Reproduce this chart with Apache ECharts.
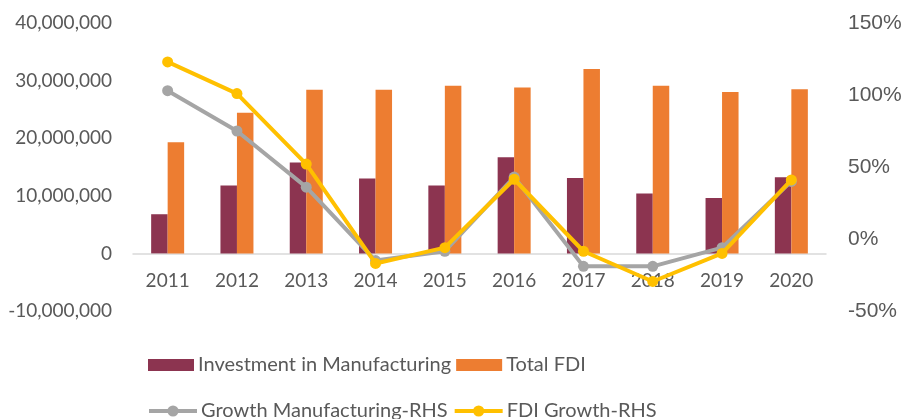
<!DOCTYPE html>
<html>
<head>
<meta charset="utf-8">
<script src="https://cdn.jsdelivr.net/npm/echarts@6/dist/echarts.min.js"></script>
<style>
  html, body { margin: 0; padding: 0; background: #fff; }
  #chart { width: 906px; height: 419px; }
</style>
</head>
<body>
<div id="chart"></div>
<script>
// Years on the category axis
const categories = ['2011', '2012', '2013', '2014', '2015', '2016', '2017', '2018', '2019', '2020'];

// Bar series (left axis, absolute amounts)
const investmentManufacturing = [6800000, 11800000, 15800000, 13000000, 11800000, 16700000, 13100000, 10400000, 9600000, 13200000];
const totalFdi = [19300000, 24400000, 28400000, 28400000, 29100000, 28800000, 32000000, 29100000, 28000000, 28500000];

// Line series (right axis, growth in percent)
const growthManufacturing = [103, 75, 36, -15, -8.5, 43, -19, -19, -6, 40];
const fdiGrowth = [123, 101, 52, -17, -6, 41.5, -8.5, -29.5, -10, 41];

// Axis ranges and tick steps
const leftAxis = { min: -10000000, max: 40000000, interval: 10000000 };
const rightAxis = { min: -50, max: 150, interval: 50 };

const textColor = '#595959';
const labelFont = 'Lato, "Liberation Sans", sans-serif';

// Plot area geometry; the category axis sits on the left axis' zero
const gridTop = 23, gridBottom = 108, chartHeight = 419;
const plotHeight = chartHeight - gridTop - gridBottom;
const zeroOffset = plotHeight * (0 - leftAxis.min) / (leftAxis.max - leftAxis.min);

const chart = echarts.init(document.getElementById('chart'), null, { renderer: 'canvas' });

chart.setOption({
  animation: false,
  backgroundColor: '#ffffff',
  grid: { left: 133, right: 80, top: gridTop, bottom: gridBottom, containLabel: false },
  legend: [
    {
      data: ['Investment in Manufacturing', 'Total FDI'],
      left: 148, top: 355, padding: 0,
      icon: 'rect',
      itemWidth: 46, itemHeight: 12, itemGap: 5,
      textStyle: { color: textColor, fontSize: 20, fontFamily: labelFont, padding: [0, 0, 0, -1] }
    },
    {
      data: ['Growth Manufacturing-RHS', 'FDI Growth-RHS'],
      left: 147, top: 401, padding: 0,
      itemWidth: 48, itemHeight: 14, itemGap: 5,
      lineStyle: { width: 4 },
      textStyle: { color: textColor, fontSize: 20, fontFamily: labelFont, padding: [0, 0, 0, -1] }
    }
  ],
  xAxis: {
    type: 'category',
    data: categories,
    boundaryGap: true,
    offset: -zeroOffset,
    axisLine: { onZero: false, lineStyle: { color: '#D9D9D9', width: 1.5 } },
    axisTick: { show: false },
    axisLabel: { color: textColor, fontSize: 19, fontFamily: labelFont, margin: 18 },
    splitLine: { show: false }
  },
  yAxis: [
    {
      type: 'value',
      position: 'left',
      min: leftAxis.min, max: leftAxis.max, interval: leftAxis.interval,
      axisLine: { show: false },
      axisTick: { show: false },
      splitLine: { show: false },
      axisLabel: {
        color: textColor, fontSize: 19, fontFamily: labelFont, margin: 21,
        formatter: v => v.toLocaleString('en-US')
      }
    },
    {
      type: 'value',
      position: 'right',
      min: rightAxis.min, max: rightAxis.max, interval: rightAxis.interval,
      axisLine: { show: false },
      axisTick: { show: false },
      splitLine: { show: false },
      axisLabel: {
        color: textColor, fontSize: 21, fontFamily: '"Liberation Sans", Arial, sans-serif', margin: 22,
        formatter: v => v + '%'
      }
    }
  ],
  series: [
    {
      name: 'Investment in Manufacturing',
      type: 'bar',
      yAxisIndex: 0,
      data: investmentManufacturing,
      barWidth: 16.5,
      barGap: '0%',
      itemStyle: { color: '#8C3450' }
    },
    {
      name: 'Total FDI',
      type: 'bar',
      yAxisIndex: 0,
      data: totalFdi,
      barWidth: 16.5,
      barGap: '0%',
      itemStyle: { color: '#ED7D31' }
    },
    {
      name: 'Growth Manufacturing-RHS',
      type: 'line',
      yAxisIndex: 1,
      data: growthManufacturing,
      symbol: 'circle',
      symbolSize: 11,
      lineStyle: { color: '#A5A5A5', width: 4 },
      itemStyle: { color: '#A5A5A5' },
      z: 3
    },
    {
      name: 'FDI Growth-RHS',
      type: 'line',
      yAxisIndex: 1,
      data: fdiGrowth,
      symbol: 'circle',
      symbolSize: 11,
      lineStyle: { color: '#FFC000', width: 4 },
      itemStyle: { color: '#FFC000' },
      z: 4
    }
  ]
});
</script>
</body>
</html>
